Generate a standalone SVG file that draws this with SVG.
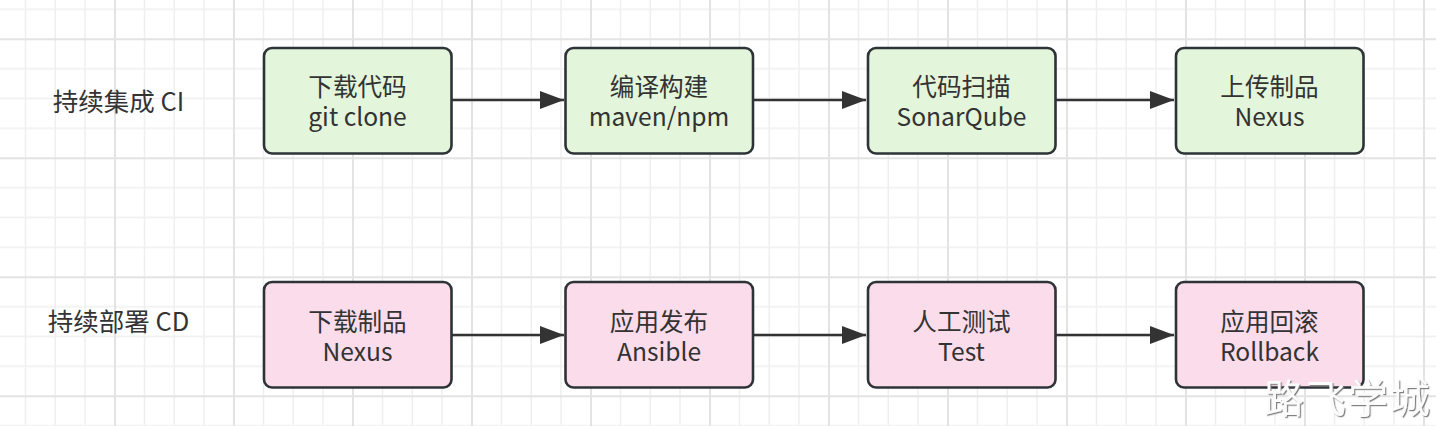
<svg xmlns="http://www.w3.org/2000/svg" width="1436" height="426" viewBox="0 0 1436 426">
  <style>
    .node rect { stroke: #2e3338; stroke-width: 2.6; }
    .ci rect { fill: #e3f5da; }
    .cd rect { fill: #fadcea; }
    text { font-family: "Noto Sans CJK SC", "Noto Sans", sans-serif; fill: #333333; }
    .t { font-size: 24.6px; text-anchor: middle; }
    .lbl { font-size: 25.5px; text-anchor: middle; }
    .edge { stroke: #333333; stroke-width: 2.6; fill: none; marker-end: url(#arrow); }
    .wm { font-size: 40px; fill: #fbfbfb; letter-spacing: 2px; filter: url(#emboss); }
  </style>
  <defs>
    <pattern id="grid" patternUnits="userSpaceOnUse" x="-5" y="38.3" width="119" height="119">
      <rect x="29.75" y="0" width="1.5" height="119" fill="#efefef"/>
      <rect x="59.5" y="0" width="1.5" height="119" fill="#efefef"/>
      <rect x="89.25" y="0" width="1.5" height="119" fill="#efefef"/>
      <rect x="0" y="29.75" width="119" height="1.5" fill="#efefef"/>
      <rect x="0" y="59.5" width="119" height="1.5" fill="#efefef"/>
      <rect x="0" y="89.25" width="119" height="1.5" fill="#efefef"/>
      <rect x="0" y="0" width="2" height="119" fill="#e3e3e3"/>
      <rect x="0" y="0" width="119" height="2" fill="#e3e3e3"/>
    </pattern>
    <marker id="arrow" markerUnits="userSpaceOnUse" markerWidth="26" markerHeight="20" refX="24" refY="9" orient="auto">
      <path d="M0,0 L24,9 L0,18 Z" fill="#333333"/>
    </marker>
    <filter id="emboss" x="-10%" y="-20%" width="120%" height="150%">
      <feDropShadow dx="1.2" dy="1.2" stdDeviation="0.7" flood-color="#7a7a7a" flood-opacity="0.95"/>
    </filter>
  </defs>

  <rect x="0" y="0" width="1436" height="426" fill="#ffffff"/>
  <rect x="0" y="0" width="1436" height="426" fill="url(#grid)"/>

  <g id="labels">
    <text id="label-ci" class="lbl" x="118.5" y="111">持续集成 CI</text>
    <text id="label-cd" class="lbl" x="118.5" y="331">持续部署 CD</text>
  </g>

  <g id="connectors">
    <line class="edge" x1="452" y1="100" x2="564" y2="100"/>
    <line class="edge" x1="753" y1="100" x2="866" y2="100"/>
    <line class="edge" x1="1056" y1="100" x2="1174" y2="100"/>
    <line class="edge" x1="452" y1="335" x2="564" y2="335"/>
    <line class="edge" x1="753" y1="335" x2="866" y2="335"/>
    <line class="edge" x1="1056" y1="335" x2="1174" y2="335"/>
  </g>

  <g id="ci-download" class="node ci">
    <rect x="264" y="48" width="187.5" height="105.5" rx="8"/>
    <text class="t" x="357.5" y="96"><tspan x="357.5" y="96">下载代码</tspan><tspan x="357.5" y="126.2">git clone</tspan></text>
  </g>
  <g id="ci-build" class="node ci">
    <rect x="565.5" y="48" width="187.5" height="105.5" rx="8"/>
    <text class="t" x="659" y="96"><tspan x="659" y="96">编译构建</tspan><tspan x="659" y="126.2">maven/npm</tspan></text>
  </g>
  <g id="ci-scan" class="node ci">
    <rect x="868" y="48" width="187.5" height="105.5" rx="8"/>
    <text class="t" x="961.5" y="96"><tspan x="961.5" y="96">代码扫描</tspan><tspan x="961.5" y="126.2">SonarQube</tspan></text>
  </g>
  <g id="ci-upload" class="node ci">
    <rect x="1176" y="48" width="187.5" height="105.5" rx="8"/>
    <text class="t" x="1269.5" y="96"><tspan x="1269.5" y="96">上传制品</tspan><tspan x="1269.5" y="126.2">Nexus</tspan></text>
  </g>

  <g id="cd-download" class="node cd">
    <rect x="264" y="282" width="187.5" height="105.5" rx="8"/>
    <text class="t" x="357.5" y="330.5"><tspan x="357.5" y="330.5">下载制品</tspan><tspan x="357.5" y="360.7">Nexus</tspan></text>
  </g>
  <g id="cd-deploy" class="node cd">
    <rect x="565.5" y="282" width="187.5" height="105.5" rx="8"/>
    <text class="t" x="659" y="330.5"><tspan x="659" y="330.5">应用发布</tspan><tspan x="659" y="360.7">Ansible</tspan></text>
  </g>
  <g id="cd-test" class="node cd">
    <rect x="868" y="282" width="187.5" height="105.5" rx="8"/>
    <text class="t" x="961.5" y="330.5"><tspan x="961.5" y="330.5">人工测试</tspan><tspan x="961.5" y="360.7">Test</tspan></text>
  </g>
  <g id="cd-rollback" class="node cd">
    <rect x="1176" y="282" width="187.5" height="105.5" rx="8"/>
    <text class="t" x="1269.5" y="330.5"><tspan x="1269.5" y="330.5">应用回滚</tspan><tspan x="1269.5" y="360.7">Rollback</tspan></text>
  </g>

  <g id="watermark">
    <text class="wm" x="1264" y="413">路飞学城</text>
  </g>
</svg>
